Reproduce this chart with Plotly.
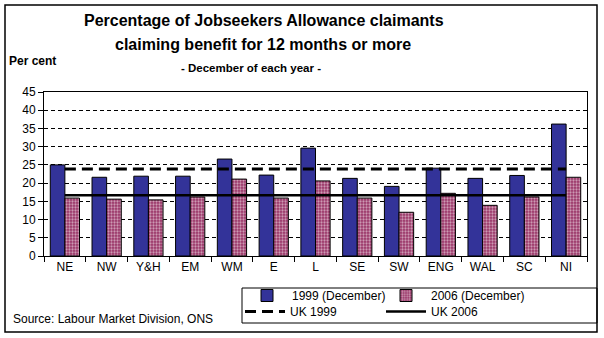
import plotly.graph_objects as go

regions = ["NE", "NW", "Y&H", "EM", "WM", "E", "L", "SE", "SW", "ENG", "WAL", "SC", "NI"]
dec_1999 = [25.0, 21.6, 21.9, 21.9, 26.6, 22.2, 29.6, 21.3, 19.1, 24.1, 21.3, 22.1, 36.2]
dec_2006 = [15.9, 15.6, 15.4, 16.2, 21.1, 15.9, 20.6, 15.9, 12.0, 17.2, 13.9, 16.2, 21.6]
uk_1999 = [23.9] * len(regions)
uk_2006 = [16.7] * len(regions)
y_ticks = [0, 5, 10, 15, 20, 25, 30, 35, 40, 45]

W, H = 604, 338
L, R, T, B = 44, 587, 92, 256  # plot area pixels


def px(x):
    return (x - L) / (R - L)


def py(y):
    return (B - y) / (B - T)


fig = go.Figure()
fig.add_trace(go.Bar(
    x=regions, y=dec_1999, name="1999 (December)", legend="legend",
    marker=dict(color="#333399", line=dict(color="black", width=1)),
))
fig.add_trace(go.Bar(
    x=regions, y=dec_2006, name="2006 (December)", legend="legend2",
    marker=dict(color="#cc6699", line=dict(color="black", width=1),
                pattern=dict(shape=".", fgcolor="white", bgcolor="#993366",
                             size=3, solidity=0.45)),
))
fig.add_trace(go.Scatter(
    x=regions, y=uk_1999, name="UK 1999", mode="lines", legend="legend3",
    line=dict(color="black", width=3, dash="11px,6px"),
))
fig.add_trace(go.Scatter(
    x=regions, y=uk_2006, name="UK 2006", mode="lines", legend="legend4",
    line=dict(color="black", width=2.5),
))

font = "Arial, Liberation Sans, sans-serif"
leg_common = dict(
    orientation="h", xanchor="left", yanchor="top",
    borderwidth=0, bgcolor="rgba(0,0,0,0)",
    font=dict(family=font, size=12), itemwidth=40,
)

fig.update_layout(
    width=W, height=H,
    margin=dict(l=L, r=W - R, t=T, b=H - B, pad=0, autoexpand=False),
    paper_bgcolor="white", plot_bgcolor="white",
    barmode="group", bargap=0.3, bargroupgap=0,
    font=dict(family=font, size=12, color="black"),
    showlegend=True,
    legend=dict(x=px(242), y=py(281), **leg_common),
    legend2=dict(x=px(381), y=py(281), **leg_common),
    legend3=dict(x=px(240), y=py(297), **leg_common),
    legend4=dict(x=px(381), y=py(297), **leg_common),
    xaxis=dict(
        showline=True, linecolor="black", linewidth=1, mirror=True,
        ticks="outside", ticklen=5, tickcolor="black",
        tickson="boundaries", showgrid=False,
        tickfont=dict(size=12, family=font),
    ),
    yaxis=dict(
        range=[0, 45], tickvals=y_ticks, ticktext=[str(v) for v in y_ticks],
        showline=True, linecolor="black", linewidth=1, mirror=True,
        ticks="outside", ticklen=5, tickcolor="black",
        showgrid=True, gridcolor="black", griddash="4px,3px", gridwidth=1,
        zeroline=False, tickfont=dict(size=12, family=font),
    ),
)

# outer border
fig.add_shape(type="rect", xref="paper", yref="paper",
              x0=px(5), x1=px(597), y0=py(5), y1=py(332),
              line=dict(color="black", width=1.5), fillcolor="rgba(0,0,0,0)",
              layer="below")
# legend box
fig.add_shape(type="rect", xref="paper", yref="paper",
              x0=px(242), x1=px(597), y0=py(288), y1=py(323),
              line=dict(color="black", width=1), fillcolor="rgba(0,0,0,0)",
              layer="below")

fig.add_annotation(xref="paper", yref="paper", x=px(264), y=py(20),
                   text="<b>Percentage of Jobseekers Allowance claimants</b>",
                   showarrow=False, font=dict(family="Liberation Sans, Arial", size=16),
                   xanchor="center", yanchor="middle")
fig.add_annotation(xref="paper", yref="paper", x=px(263), y=py(45),
                   text="<b>claiming benefit for 12 months or more</b>",
                   showarrow=False, font=dict(family="Liberation Sans, Arial", size=16),
                   xanchor="center", yanchor="middle")
fig.add_annotation(xref="paper", yref="paper", x=px(251), y=py(68),
                   text="<b>- December of each year -</b>",
                   showarrow=False, font=dict(family="Liberation Sans, Arial", size=11.5),
                   xanchor="center", yanchor="middle")
fig.add_annotation(xref="paper", yref="paper", x=px(7), y=py(61),
                   text="<b>Per cent</b>",
                   showarrow=False, font=dict(family="Liberation Sans, Arial", size=12),
                   xanchor="left", yanchor="middle")
fig.add_annotation(xref="paper", yref="paper", x=px(11), y=py(319),
                   text="Source: Labour Market Division, ONS",
                   showarrow=False, font=dict(family="Liberation Sans, Arial", size=12),
                   xanchor="left", yanchor="middle")

fig.write_html("out.html")
